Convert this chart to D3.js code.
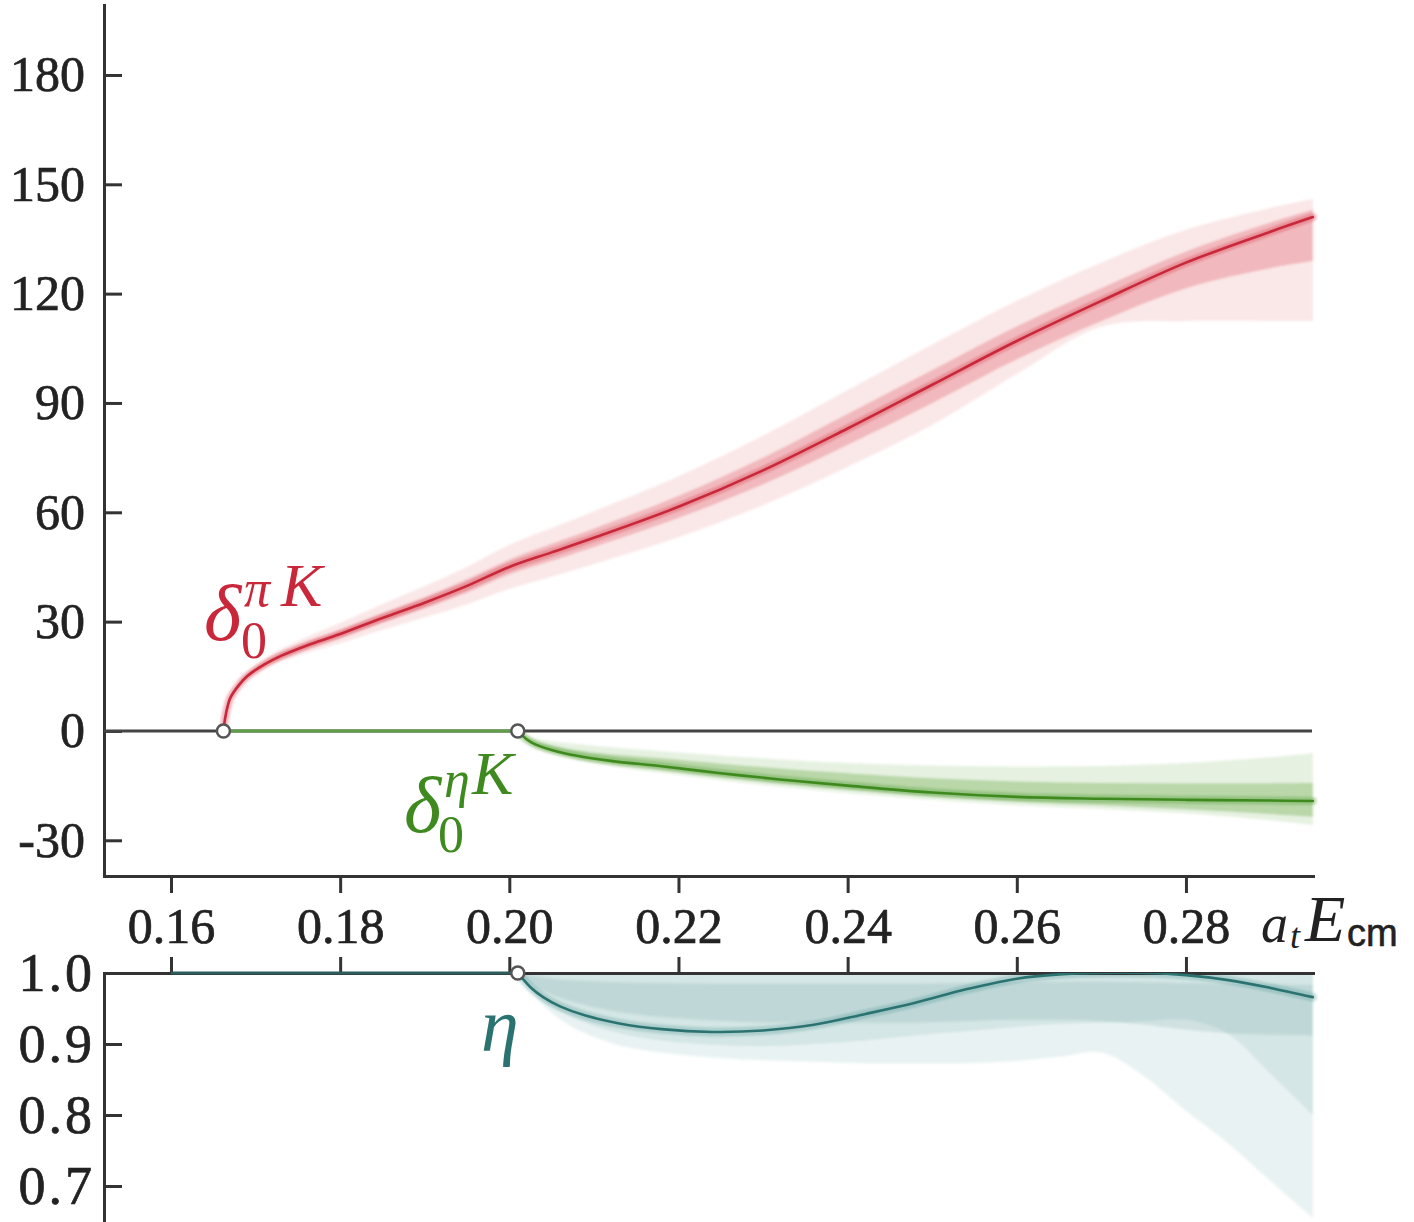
<!DOCTYPE html>
<html><head><meta charset="utf-8">
<script src="https://cdn.jsdelivr.net/npm/d3@7"></script>
<style>html,body{margin:0;padding:0;background:#fff;} svg{display:block;}</style>
</head><body>
<svg id="chart" width="1414" height="1222"></svg>
<script>
// ---------- data ----------
const xTicks = [0.16, 0.18, 0.20, 0.22, 0.24, 0.26, 0.28];
const xTickLabels = ["0.16", "0.18", "0.20", "0.22", "0.24", "0.26", "0.28"];
const phaseTicks = [-30, 0, 30, 60, 90, 120, 150, 180];
const etaTicks = [0.7, 0.8, 0.9, 1.0];
const etaTickLabels = ["0.7", "0.8", "0.9", "1.0"];
const thresholdPiK = 0.1662;
const thresholdEtaK = 0.2010;

const redE = [0.1662,0.1664,0.1667,0.1670,0.1680,0.1690,0.1710,0.1730,0.1760,0.1800,0.1850,0.1900,0.1950,0.2000,0.2050,0.2100,0.2200,0.2300,0.2400,0.2500,0.2600,0.2700,0.2800,0.2900,0.2950];
const redCenter = [0,3.5,6.8,9.0,12.5,15.0,18.2,20.6,23.4,26.6,31.0,35.2,39.8,45.0,49.0,53.0,61.5,71.5,83.0,95.0,107.0,118.0,128.5,137.0,141.0];
const redOuterHi = [0,3.6,7.1,9.5,13.3,16.0,19.6,22.4,25.7,29.6,34.8,39.7,45.0,51.0,55.6,60.2,69.8,81.0,93.5,106.0,118.0,128.5,137.5,143.5,146.0];
const redOuterLo = [0,3.4,6.5,8.5,11.8,14.1,17.0,19.1,21.4,24.1,27.8,31.2,34.8,39.0,42.4,45.8,53.2,62.0,72.5,84.0,98.0,111.0,112.5,112.5,112.5];
const redMidHi = [0,3.55,6.95,9.25,12.9,15.5,18.8,21.4,24.3,27.6,32.3,36.7,41.6,47.0,51.3,55.5,64.5,75.0,87.0,99.0,111.0,121.5,131.5,139.5,143.0];
const redMidLo = [0,3.45,6.65,8.75,12.1,14.5,17.6,19.8,22.5,25.6,29.7,33.7,38.0,43.0,46.7,50.5,58.5,67.7,78.5,90.0,102.0,112.5,121.5,127.0,129.0];

const greenE = [0.2010,0.2020,0.2030,0.2050,0.2080,0.2120,0.2180,0.2250,0.2320,0.2400,0.2500,0.2600,0.2700,0.2800,0.2900,0.2950];
const greenCenter = [0,-2.2,-3.6,-5.2,-6.8,-8.2,-9.7,-11.6,-13.3,-15.0,-16.9,-18.1,-18.6,-18.9,-19.1,-19.2];
const greenOuterHi = [0,-1.2,-2.0,-2.8,-3.6,-4.5,-5.6,-6.8,-7.8,-8.8,-9.5,-9.8,-9.6,-8.8,-7.2,-6.1];
const greenOuterLo = [0,-2.6,-4.3,-6.0,-7.8,-9.6,-11.5,-13.5,-15.3,-17.0,-18.9,-20.4,-21.4,-22.6,-24.5,-25.8];
const greenMidHi = [0,-1.7,-2.8,-4.0,-5.3,-6.4,-7.5,-9.0,-10.3,-11.6,-13.0,-13.9,-14.3,-14.4,-14.4,-14.3];
const greenMidLo = [0,-2.4,-4.0,-5.6,-7.3,-8.8,-10.5,-12.5,-14.3,-16.0,-18.0,-19.4,-20.4,-21.5,-22.8,-23.6];

const tealE = [0.2010,0.2015,0.2025,0.2040,0.2060,0.2090,0.2130,0.2180,0.2240,0.2300,0.2360,0.2420,0.2480,0.2540,0.2600,0.2650,0.2700,0.2750,0.2800,0.2850,0.2900,0.2950];
const tealCenter = [1.000,0.993,0.980,0.966,0.953,0.940,0.929,0.921,0.917,0.919,0.927,0.942,0.958,0.977,0.992,0.998,1.000,1.000,0.997,0.990,0.979,0.966];
const tealLo1 = [1.0,0.990,0.975,0.955,0.935,0.915,0.898,0.888,0.881,0.877,0.875,0.873,0.873,0.873,0.876,0.882,0.888,0.855,0.806,0.760,0.707,0.655];
const tealLo2 = [1.0,0.992,0.978,0.962,0.946,0.930,0.915,0.905,0.899,0.897,0.900,0.905,0.912,0.918,0.924,0.928,0.930,0.932,0.934,0.914,0.858,0.800];
const tealLo3 = [1.0,0.995,0.985,0.975,0.965,0.955,0.945,0.938,0.933,0.930,0.930,0.930,0.930,0.932,0.934,0.934,0.932,0.927,0.920,0.915,0.913,0.912];
const tealHi3 = [1.0,0.999,0.997,0.994,0.991,0.989,0.987,0.986,0.985,0.985,0.985,0.985,0.985,0.986,0.987,0.988,0.988,0.987,0.986,0.985,0.984,0.983];

// ---------- drawing ----------
const svg = d3.select("#chart");
const x = d3.scaleLinear().domain([0.15208, 0.29502]).range([104, 1313]);
const yTop = d3.scaleLinear().domain([-39.8, 199.2]).range([876, 5]);
const yBot = d3.scaleLinear().domain([0.6493, 1.0]).range([1222, 973]);

const AX = "#333";
const SERIF = "'Liberation Serif', 'Times New Roman', serif";
const RED = "#c8283a", RED_F = "#d8404c";
const GREEN = "#3f8a1f", GREEN_F = "#4f9a2c";
const TEAL = "#2b7371", TEAL_F = "#3a8886";

const defs = svg.append("defs");
defs.append("filter").attr("id", "soft").append("feGaussianBlur").attr("stdDeviation", 1.2);
defs.append("clipPath").attr("id", "botClip").append("rect")
  .attr("x", 104).attr("y", 973).attr("width", 1215).attr("height", 260);

function zip(E, ...arrs) { return E.map((e, i) => [e, ...arrs.map(a => a[i])]); }
const curve = d3.curveCatmullRom.alpha(0.5);

function band(g, E, lo, hi, yS, fill, op) {
  const area = d3.area().curve(curve).x(d => x(d[0])).y0(d => yS(d[1])).y1(d => yS(d[2]));
  g.append("path").attr("d", area(zip(E, lo, hi))).attr("fill", fill).attr("fill-opacity", op);
}
function line(g, E, c, yS, color, w, op) {
  const l = d3.line().curve(curve).x(d => x(d[0])).y(d => yS(d[1]));
  g.append("path").attr("d", l(zip(E, c))).attr("fill", "none").attr("stroke", color)
    .attr("stroke-width", w).attr("stroke-opacity", op).attr("stroke-linecap", "round");
}

// bands
const gB = svg.append("g").attr("filter", "url(#soft)");
band(gB, redE, redOuterLo, redOuterHi, yTop, RED_F, 0.13);
band(gB, redE, redMidLo, redMidHi, yTop, RED_F, 0.28);
line(gB, redE, redCenter, yTop, RED_F, 8, 0.35);
band(gB, greenE, greenOuterLo, greenOuterHi, yTop, GREEN_F, 0.14);
band(gB, greenE, greenMidLo, greenMidHi, yTop, GREEN_F, 0.3);
line(gB, greenE, greenCenter, yTop, GREEN_F, 8, 0.35);

const gT = svg.append("g").attr("clip-path", "url(#botClip)").append("g").attr("filter", "url(#soft)");
const oneArr = tealE.map(() => 1.0);
band(gT, tealE, tealLo1, oneArr, yBot, TEAL_F, 0.11);
band(gT, tealE, tealLo2, oneArr, yBot, TEAL_F, 0.12);
band(gT, tealE, tealLo3, tealHi3, yBot, TEAL_F, 0.15);
line(gT, tealE, tealCenter, yBot, TEAL_F, 9, 0.25);

// axes
function styleAxis(g) {
  g.selectAll("path.domain").attr("stroke", AX).attr("stroke-width", 3).attr("stroke-linecap", "square");
  g.selectAll(".tick line").attr("stroke", AX).attr("stroke-width", 3);
  g.selectAll(".tick text").attr("font-family", SERIF).attr("font-size", 50).attr("fill", "#222")
    .attr("stroke", "#222").attr("stroke-width", 0.7);
}
const yAxTop = svg.append("g").attr("transform", "translate(104,0)")
  .call(d3.axisLeft(yTop).tickValues(phaseTicks).tickSize(-18).tickSizeOuter(0).tickPadding(19).tickFormat(d => String(d)));
styleAxis(yAxTop);
const xAxTop = svg.append("g").attr("transform", "translate(0,876)")
  .call(d3.axisBottom(x).tickValues(xTicks).tickSize(17).tickSizeOuter(0).tickPadding(14)
    .tickFormat((d, i) => xTickLabels[i]));
styleAxis(xAxTop);
const yAxBot = svg.append("g").attr("transform", "translate(104,0)")
  .call(d3.axisLeft(yBot).tickValues(etaTicks).tickSize(-18).tickSizeOuter(0).tickPadding(9)
    .tickFormat((d, i) => etaTickLabels[i]));
styleAxis(yAxBot);
yAxBot.selectAll(".tick text").attr("font-size", 54).attr("letter-spacing", 3);
const xAxBot = svg.append("g").attr("transform", "translate(0,973)")
  .call(d3.axisTop(x).tickValues(xTicks).tickSize(16).tickSizeOuter(0).tickFormat(""));
styleAxis(xAxBot);

// zero line in top panel
svg.append("line").attr("x1", 104).attr("x2", 1312).attr("y1", yTop(0)).attr("y2", yTop(0))
  .attr("stroke", "#444").attr("stroke-width", 3);
svg.append("line").attr("x1", x(thresholdPiK)).attr("x2", x(thresholdEtaK)).attr("y1", yTop(0)).attr("y2", yTop(0))
  .attr("stroke", "#5e9e45").attr("stroke-width", 3);
// eta = 1 below threshold
svg.append("line").attr("x1", x(0.16)).attr("x2", x(thresholdEtaK)).attr("y1", yBot(1)).attr("y2", yBot(1))
  .attr("stroke", "#2c5c5b").attr("stroke-width", 3);

// central curves
line(svg, redE, redCenter, yTop, RED, 2.6, 1);
line(svg, greenE, greenCenter, yTop, GREEN, 2.6, 1);
line(svg.append("g").attr("clip-path", "url(#botClip)"), tealE, tealCenter, yBot, TEAL, 2.6, 1);

// threshold markers
[[thresholdPiK, yTop(0)], [thresholdEtaK, yTop(0)], [thresholdEtaK, yBot(1)]].forEach(([e, yy]) => {
  svg.append("circle").attr("cx", x(e)).attr("cy", yy).attr("r", 6.5)
    .attr("fill", "#fff").attr("stroke", "#555").attr("stroke-width", 2.5);
});

// labels: one text element per math expression, parts as tspans
function mathLabel(parts, color) {
  const t = svg.append("text").attr("font-family", SERIF).attr("fill", color);
  parts.forEach(p => {
    t.append("tspan").attr("x", p.x).attr("y", p.y)
      .attr("font-style", p.it ? "italic" : "normal").attr("font-size", p.s).text(p.t);
  });
}
mathLabel([
  {t: "δ", x: 204, y: 640, s: 80, it: true},
  {t: "0", x: 241, y: 658, s: 52},
  {t: "π", x: 244, y: 606, s: 52, it: true},
  {t: "K", x: 281, y: 606, s: 62, it: true}
], RED);
mathLabel([
  {t: "δ", x: 404, y: 832, s: 80, it: true},
  {t: "0", x: 438, y: 852, s: 52},
  {t: "η", x: 444, y: 797, s: 52, it: true},
  {t: "K", x: 472, y: 794, s: 62, it: true}
], GREEN);
mathLabel([{t: "η", x: 481, y: 1051, s: 76, it: true}], TEAL);

// x-axis label a_t E_cm
const axLab = svg.append("text").attr("fill", "#222");
axLab.append("tspan").attr("x", 1261).attr("y", 942).attr("font-family", SERIF).attr("font-style", "italic")
  .attr("font-size", 54).text("a");
axLab.append("tspan").attr("x", 1290).attr("y", 948).attr("font-family", SERIF).attr("font-style", "italic")
  .attr("font-size", 36).text("t");
axLab.append("tspan").attr("x", 1305).attr("y", 941).attr("font-family", SERIF).attr("font-style", "italic")
  .attr("font-size", 66).text("E");
axLab.append("tspan").attr("x", 1347).attr("y", 946).attr("font-family", "'Liberation Sans', Arial, sans-serif")
  .attr("font-size", 38).attr("stroke", "#222").attr("stroke-width", 0.6).text("cm");
</script>
</body></html>
